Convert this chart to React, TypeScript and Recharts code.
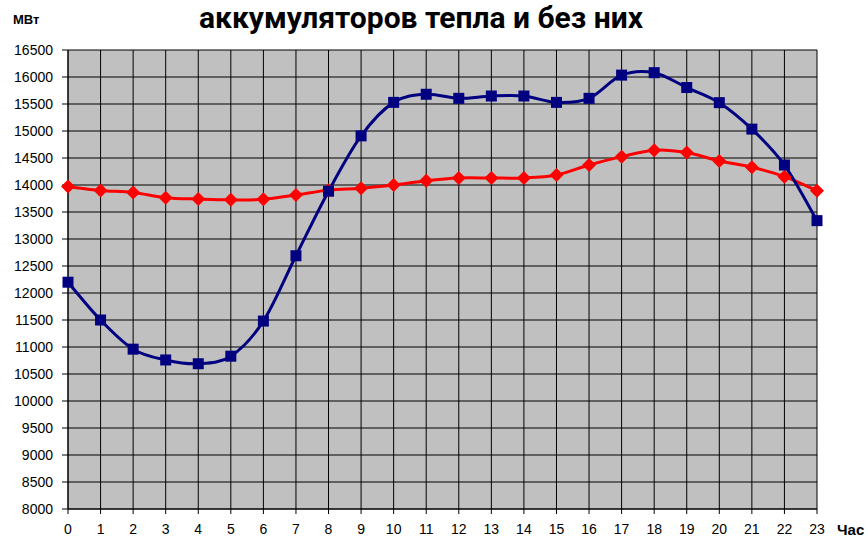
import { CartesianGrid, Line, LineChart, XAxis, YAxis } from "recharts";

const HOURS = [0, 1, 2, 3, 4, 5, 6, 7, 8, 9, 10, 11, 12, 13, 14, 15, 16, 17, 18, 19, 20, 21, 22, 23];
const WITH_STORAGE = [
  13970, 13900, 13860, 13765, 13740, 13725, 13735, 13815, 13905, 13940, 14000, 14080,
  14130, 14130, 14130, 14185, 14370, 14525, 14645, 14600, 14445, 14330, 14155, 13895,
];
const WITHOUT_STORAGE = [
  12200, 11500, 10960, 10760, 10690, 10830, 11480, 12690, 13885, 14910, 15530, 15680,
  15605, 15648, 15648, 15530, 15605, 16035, 16080, 15805, 15525, 15035, 14370, 13340,
];
const Y_TICKS = [
  8000, 8500, 9000, 9500, 10000, 10500, 11000, 11500, 12000, 12500, 13000, 13500, 14000,
  14500, 15000, 15500, 16000, 16500,
];

const FONT = "'Liberation Sans', Arial, sans-serif";
const BLUE = "#000080";
const RED = "#FF0000";

const rows = HOURS.map((h, i) => ({ hour: h, red: WITH_STORAGE[i], blue: WITHOUT_STORAGE[i] }));

// Excel-style smoothed line (Catmull-Rom through the points)
function smoothCurve(context: any) {
  let pts: [number, number][] = [];
  return {
    areaStart() {},
    areaEnd() {},
    lineStart() {
      pts = [];
    },
    point(x: number, y: number) {
      pts.push([+x, +y]);
    },
    lineEnd() {
      if (!pts.length) return;
      context.moveTo(pts[0][0], pts[0][1]);
      for (let i = 0; i < pts.length - 1; i++) {
        const p0 = pts[i - 1] ?? pts[i];
        const p1 = pts[i];
        const p2 = pts[i + 1];
        const p3 = pts[i + 2] ?? p2;
        context.bezierCurveTo(
          p1[0] + (p2[0] - p0[0]) / 6,
          p1[1] + (p2[1] - p0[1]) / 6,
          p2[0] - (p3[0] - p1[0]) / 6,
          p2[1] - (p3[1] - p1[1]) / 6,
          p2[0],
          p2[1],
        );
      }
    },
  };
}

function Square(props: any) {
  const { cx, cy } = props;
  if (cx == null || cy == null) return null;
  return <rect x={cx - 5.5} y={cy - 5.5} width={11} height={11} fill={BLUE} />;
}

function Diamond(props: any) {
  const { cx, cy } = props;
  if (cx == null || cy == null) return null;
  const r = 7;
  return <path d={`M${cx},${cy - r}L${cx + r},${cy}L${cx},${cy + r}L${cx - r},${cy}Z`} fill={RED} />;
}

const tickStyle = { fontSize: 14, fill: "#000", fontFamily: FONT };

export default function App() {
  return (
    <div style={{ position: "absolute", left: 0, top: 0, width: 868, height: 537, background: "#fff" }}>
      <div
        style={{
          position: "absolute",
          left: 0,
          width: 842,
          top: 2,
          textAlign: "center",
          fontFamily: "Roboto, 'Liberation Sans', sans-serif",
          fontWeight: 700,
          fontSize: 30,
          lineHeight: "32px",
          whiteSpace: "nowrap",
        }}
      >
        аккумуляторов тепла и без них
      </div>
      <div style={{ position: "absolute", left: 13, top: 12, fontFamily: FONT, fontWeight: "bold", fontSize: 13 }}>
        МВт
      </div>
      <div style={{ position: "absolute", left: 837, top: 521, fontFamily: FONT, fontWeight: "bold", fontSize: 15 }}>
        Час
      </div>
      <LineChart width={868} height={537} data={rows} margin={{ top: 50, right: 51, bottom: 0, left: 8 }}>
        <CartesianGrid stroke="#000" strokeOpacity={1} fill="#C0C0C0" fillOpacity={1} />
        <XAxis
          dataKey="hour"
          type="number"
          domain={[0, 23]}
          ticks={HOURS}
          interval={0}
          height={28}
          axisLine={{ stroke: "#000" }}
          tickLine={{ stroke: "#000" }}
          tickSize={5}
          tickMargin={10}
          tick={tickStyle}
        />
        <YAxis
          type="number"
          domain={[8000, 16500]}
          ticks={Y_TICKS}
          interval={0}
          width={60}
          axisLine={{ stroke: "#000" }}
          tickLine={{ stroke: "#000" }}
          tickSize={6}
          tickMargin={9}
          tick={tickStyle}
        />
        <Line
          dataKey="red"
          type={smoothCurve as any}
          stroke={RED}
          strokeWidth={3}
          dot={<Diamond />}
          activeDot={false}
          isAnimationActive={false}
        />
        <Line
          dataKey="blue"
          type={smoothCurve as any}
          stroke={BLUE}
          strokeWidth={3}
          dot={<Square />}
          activeDot={false}
          isAnimationActive={false}
        />
      </LineChart>
    </div>
  );
}
